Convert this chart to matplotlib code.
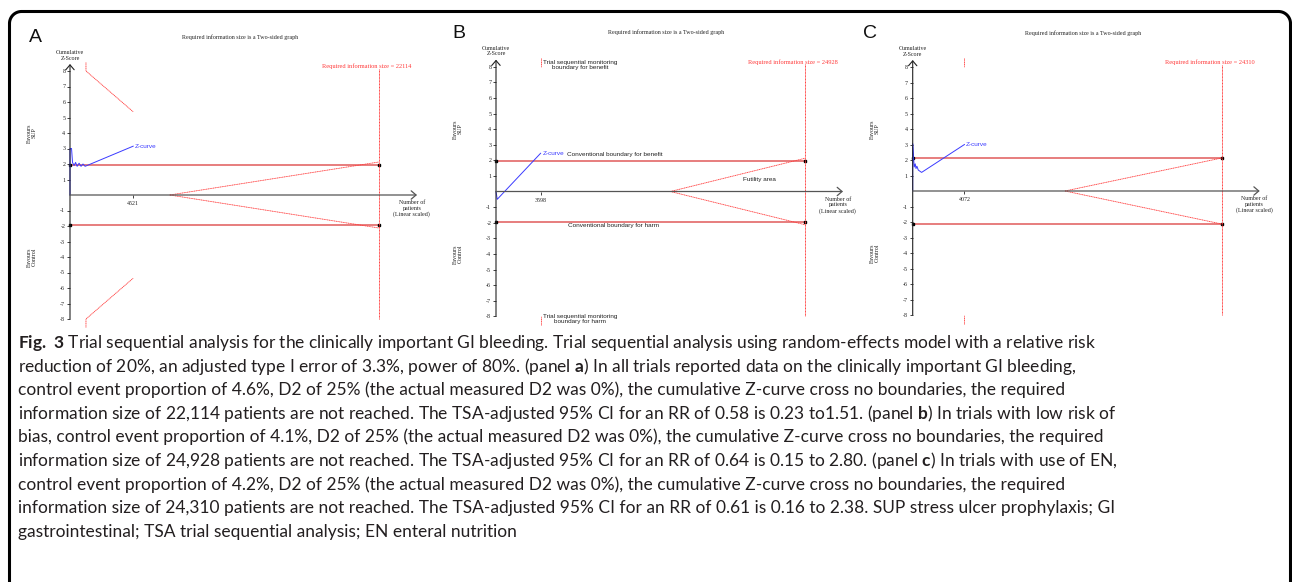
import numpy as np
import matplotlib.pyplot as plt
from matplotlib.lines import Line2D
from matplotlib.transforms import IdentityTransform

plt.rcParams['axes.unicode_minus'] = False
plt.rcParams['mathtext.fontset'] = 'custom'
plt.rcParams['mathtext.rm'] = 'Lato'
plt.rcParams['mathtext.bf'] = 'Lato:bold'

# Data
panels = ['A', 'B', 'C']
ris = [22114, 24928, 24310]              # required information size
n_now = [4521, 3598, 4072]               # accrued patients
conv_hi = [1.96, 1.96, 2.15]             # conventional boundary for benefit
conv_lo = [-1.96, -1.96, -2.12]          # conventional boundary for harm
fut_apex = [7140, 14070, 11980]          # start of futility wedge
fut_end = [2.13, 2.13, 2.13]             # wedge half-width at RIS

z_n = [[0, 0, 110, 180, 290, 400, 510, 650, 790, 930, 1080, 4521],
       [0, 100, 3598],
       [0, 0, 60, 120, 200, 260, 330, 440, 700, 4072]]
z_val = [[0, 3.0, 3.0, 2.1, 1.9, 2.1, 1.85, 2.05, 1.85, 2.0, 1.85, 3.15],
         [0, -0.5, 2.45],
         [0, 3.05, 2.2, 1.55, 1.75, 1.45, 1.6, 1.35, 1.2, 3.0]]

# trial sequential monitoring boundary (benefit side; harm is mirrored)
tsmb_n = [[1143, 1143, 4521], [3598, 3598], [4072, 4072]]
tsmb_z = [[8.55, 8.0, 5.37], [8.55, 8.0], [8.55, 8.0]]

yticks = [-8, -7, -6, -5, -4, -3, -2, -1, 1, 2, 3, 4, 5, 6, 7, 8]

caption = [
    r"$\mathbf{Fig.}$ $\mathbf{3}$ Trial sequential analysis for the clinically important GI bleeding. Trial sequential analysis using random-effects model with a relative risk",
    r"reduction of 20%, an adjusted type I error of 3.3%, power of 80%. (panel $\mathbf{a}$) In all trials reported data on the clinically important GI bleeding,",
    "control event proportion of 4.6%, D2 of 25% (the actual measured D2 was 0%), the cumulative Z-curve cross no boundaries, the required",
    r"information size of 22,114 patients are not reached. The TSA-adjusted 95% CI for an RR of 0.58 is 0.23 to1.51. (panel $\mathbf{b}$) In trials with low risk of",
    "bias, control event proportion of 4.1%, D2 of 25% (the actual measured D2 was 0%), the cumulative Z-curve cross no boundaries, the required",
    r"information size of 24,928 patients are not reached. The TSA-adjusted 95% CI for an RR of 0.64 is 0.15 to 2.80. (panel $\mathbf{c}$) In trials with use of EN,",
    "control event proportion of 4.2%, D2 of 25% (the actual measured D2 was 0%), the cumulative Z-curve cross no boundaries, the required",
    "information size of 24,310 patients are not reached. The TSA-adjusted 95% CI for an RR of 0.61 is 0.16 to 2.38. SUP stress ulcer prophylaxis; GI",
    "gastrointestinal; TSA trial sequential analysis; EN enteral nutrition",
]

W, H = 1292, 582
fig = plt.figure(figsize=(W / 100, H / 100), dpi=100)

# frame: left edge, rounded top corners, right edge (open at the bottom)
r = 12
xl, xr, yt = 9.5, 1290.5, H - 11.5
a1 = np.linspace(np.pi, np.pi / 2, 20)
a2 = np.linspace(np.pi / 2, 0, 20)
fx = np.concatenate([[xl], xl + r + r * np.cos(a1), xr - r + r * np.cos(a2), [xr]])
fy = np.concatenate([[-5], yt - r + r * np.sin(a1), yt - r + r * np.sin(a2), [-5]])
fig.add_artist(Line2D(fx, fy, transform=IdentityTransform(), color='black', lw=2.2,
                      solid_joinstyle='round'))

ox = [70, 496, 912.7]
oy = [195, 191.5, 191]
scale = [15.5, 15.6, 15.5]
axlen = 347
ris_frac = 309 / 347

serif = 'Liberation Serif'
sans = 'Liberation Sans'
red = '#ff3b3b'
fs = 4.3

for i in range(3):
    s = scale[i]
    ax = fig.add_axes([ox[i] / W, 1 - (oy[i] + 8.7 * s) / H, axlen / W, 17.4 * s / H])
    L = ris[i] / ris_frac
    ax.set_xlim(0, L)
    ax.set_ylim(-8.7, 8.7)
    ax.patch.set_visible(False)
    for sp in ax.spines.values():
        sp.set_visible(False)
    ax.spines['bottom'].set_position(('data', 0))

    ax.set_yticks(yticks)
    ax.set_yticklabels([str(t) for t in yticks], fontsize=fs, family=serif)
    ax.tick_params(axis='y', direction='out', length=2.2, width=0.6, pad=1.2, colors='#222222')
    ax.set_xticks([n_now[i]])
    ax.set_xticklabels([str(n_now[i])], fontsize=fs, family=serif)
    ax.tick_params(axis='x', direction='out', length=2.2, width=0.6, pad=2.2, colors='#222222')

    # axes with open arrow heads
    ax.annotate('', xy=(0, 8.45), xytext=(0, -8), annotation_clip=False,
                arrowprops=dict(arrowstyle='->,head_length=0.35,head_width=0.3',
                                lw=0.8, color='#222222', shrinkA=0, shrinkB=0))
    ax.annotate('', xy=(L, 0), xytext=(0, 0), annotation_clip=False,
                arrowprops=dict(arrowstyle='->,head_length=0.35,head_width=0.3',
                                lw=0.9, color='#555555', shrinkA=0, shrinkB=0))

    # conventional boundaries
    for zc in (conv_hi[i], conv_lo[i]):
        ax.plot([0, ris[i]], [zc, zc], color='#e05a5a', lw=1.1, clip_on=False)
        ax.plot([0, ris[i]], [zc, zc], 's', color='black', ms=1.8, clip_on=False)

    # futility wedge
    ax.plot([fut_apex[i], ris[i]], [0, fut_end[i]], color=red, lw=0.6,
            ls=(0, (1.5, 0.6)), clip_on=False)
    ax.plot([fut_apex[i], ris[i]], [0, -fut_end[i]], color=red, lw=0.6,
            ls=(0, (1.5, 0.6)), clip_on=False)

    # monitoring boundaries
    ax.plot(tsmb_n[i], tsmb_z[i], color=red, lw=0.6, ls=(0, (1.5, 0.6)), clip_on=False)
    ax.plot(tsmb_n[i], [-z for z in tsmb_z[i]], color=red, lw=0.6, ls=(0, (1.5, 0.6)),
            clip_on=False)

    # required information size
    ax.plot([ris[i], ris[i]], [8.15, -8], color=red, lw=0.7, ls=(0, (1, 0.5)), clip_on=False)
    ax.text(ris_frac - 12 / axlen, 8.32, 'Required information size = %d' % ris[i],
            transform=ax.get_yaxis_transform(), ha='center', va='center',
            fontsize=fs + 0.3, family=serif, color=red)

    # Z-curve
    ax.plot(z_n[i], z_val[i], color='#3a3aff', lw=0.7, clip_on=False)
    ax.annotate('Z-curve', xy=(z_n[i][-1], z_val[i][-1]), xytext=(1.2, 0),
                textcoords='offset points', ha='left', va='center',
                fontsize=fs + 0.3, family=sans, color='#3a3aff')

    # panel texts
    ax.text(0.49, 10.2, 'Required information size is a Two-sided graph',
            transform=ax.get_yaxis_transform(), ha='center', va='center',
            fontsize=fs, family=serif, color='#222222')
    ax.text(0, 9.0, 'Cumulative\nZ-Score', ha='center', va='center', fontsize=fs,
            family=serif, color='#222222', linespacing=1.1)
    ax.text(-0.11, 4.0, 'Favours\nSUP', transform=ax.get_yaxis_transform(), rotation=90,
            ha='center', va='center', fontsize=fs, family=serif, color='#222222',
            linespacing=1.0)
    ax.text(-0.11, -4.0, 'Favours\nControl', transform=ax.get_yaxis_transform(),
            rotation=90, ha='center', va='center', fontsize=fs, family=serif,
            color='#222222', linespacing=1.0)
    ax.text(0.985, -0.35, 'Number of\npatients\n(Linear scaled)',
            transform=ax.get_yaxis_transform(), ha='center', va='top', fontsize=fs,
            family=serif, color='#222222', linespacing=1.1)
    ax.text([-0.10, -0.107, -0.123][i], 10.15, panels[i], transform=ax.get_yaxis_transform(),
            ha='center', va='center', fontsize=14, family=sans, color='#111111')

    if i == 1:
        lbl = dict(fontsize=fs + 0.3, family=sans, color='#222222')
        ax.annotate('Trial sequential monitoring\nboundary for benefit',
                    xy=(tsmb_n[i][0], 8.1), xytext=(1.5, 0), textcoords='offset points',
                    ha='left', va='center', multialignment='center', linespacing=1.0, **lbl)
        ax.annotate('Trial sequential monitoring\nboundary for harm',
                    xy=(tsmb_n[i][0], -8.2), xytext=(1.5, 0), textcoords='offset points',
                    ha='left', va='center', multialignment='center', linespacing=1.0, **lbl)
        ax.text(0.205, 2.34, 'Conventional boundary for benefit',
                transform=ax.get_yaxis_transform(), ha='left', va='center', **lbl)
        ax.text(0.207, -2.21, 'Conventional boundary for harm',
                transform=ax.get_yaxis_transform(), ha='left', va='center', **lbl)
        ax.text(0.76, 0.74, 'Futility area', transform=ax.get_yaxis_transform(),
                ha='center', va='center', **lbl)

# caption
for k, line in enumerate(caption):
    fig.text(18 / W, 1 - (348 + 23.6 * k) / H, line, fontsize=12.5, family='Lato',
             color='#231f20', va='baseline', ha='left')

fig.savefig('out.png', dpi=100)
